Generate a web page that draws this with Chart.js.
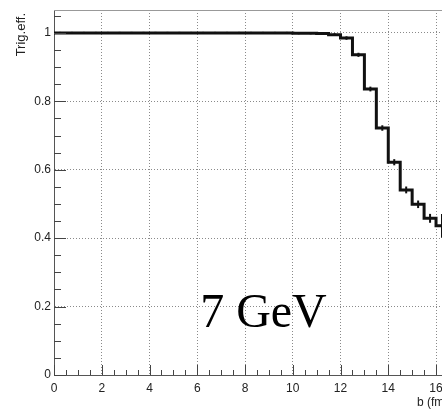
<!DOCTYPE html>
<html>
<head>
<meta charset="utf-8">
<script src="https://cdn.jsdelivr.net/npm/chart.js@4"></script>
<style>
  html, body { margin: 0; padding: 0; background: #fff; }
  canvas { display: block; }
</style>
</head>
<body>
<canvas id="effChart" width="442" height="411"></canvas>
<script>
// lower edge of each 0.5 fm bin
const binLow = [0, 0.5, 1, 1.5, 2, 2.5, 3, 3.5, 4, 4.5, 5, 5.5, 6, 6.5, 7, 7.5,
  8, 8.5, 9, 9.5, 10, 10.5, 11, 11.5, 12, 12.5, 13, 13.5, 14, 14.5, 15, 15.5, 16];
const binWidth = 0.5;
const trigEff = [1, 1, 1, 1, 1, 1, 1, 1, 1, 1, 1, 1, 1, 1, 1, 1,
  1, 1, 1, 1, 0.999, 0.999, 0.998, 0.995, 0.985, 0.936, 0.836, 0.722, 0.622, 0.541, 0.499, 0.458, 0.436];
const trigErr = [0.003, 0.003, 0.003, 0.003, 0.003, 0.003, 0.003, 0.003, 0.003, 0.003, 0.003, 0.003, 0.003, 0.003, 0.003, 0.003,
  0.003, 0.003, 0.003, 0.003, 0.003, 0.003, 0.003, 0.004, 0.005, 0.006, 0.007, 0.008, 0.009, 0.01, 0.011, 0.013, 0.035];
const xTicks = [0, 2, 4, 6, 8, 10, 12, 14, 16];
const yTicks = [0, 0.2, 0.4, 0.6, 0.8, 1];
const xMinorStep = 0.5;
const yMinorStep = 0.05;
const label = '7 GeV';

// step points: bin edges, last edge repeats last value
const stepData = binLow.map((x, i) => ({ x: x, y: trigEff[i] }));
stepData.push({ x: binLow[binLow.length - 1] + binWidth, y: trigEff[trigEff.length - 1] });

const rootAxes = {
  id: 'rootAxes',
  afterDatasetsDraw(chart) {
    const ctx = chart.ctx;
    const xs = chart.scales.x, ys = chart.scales.y;
    ctx.save();
    // error bars at bin centres
    ctx.strokeStyle = '#111';
    ctx.lineWidth = 2;
    binLow.forEach((lo, i) => {
      const px = xs.getPixelForValue(lo + binWidth / 2);
      const top = ys.getPixelForValue(trigEff[i] + trigErr[i]);
      const bot = ys.getPixelForValue(trigEff[i] - trigErr[i]);
      ctx.beginPath();
      ctx.moveTo(px, top);
      ctx.lineTo(px, bot);
      ctx.stroke();
    });
    ctx.restore();
  },
  afterDraw(chart) {
    const ctx = chart.ctx;
    const xs = chart.scales.x, ys = chart.scales.y;
    const area = chart.chartArea;
    ctx.save();
    // top frame line
    ctx.strokeStyle = '#999';
    ctx.lineWidth = 1;
    ctx.beginPath();
    ctx.moveTo(area.left, area.top + 0.5);
    ctx.lineTo(area.right, area.top + 0.5);
    ctx.stroke();
    // inward ticks
    ctx.strokeStyle = '#444';
    for (let v = 0; v <= xs.max + 1e-9; v += xMinorStep) {
      const major = xTicks.some(t => Math.abs(t - v) < 1e-6);
      const px = Math.round(xs.getPixelForValue(v)) + 0.5;
      ctx.beginPath();
      ctx.moveTo(px, area.bottom);
      ctx.lineTo(px, area.bottom - (major ? 10 : 5));
      ctx.stroke();
    }
    for (let v = 0; v <= ys.max + 1e-9; v += yMinorStep) {
      const major = yTicks.some(t => Math.abs(t - v) < 1e-6);
      const py = Math.round(ys.getPixelForValue(v)) + 0.5;
      ctx.beginPath();
      ctx.moveTo(area.left, py);
      ctx.lineTo(area.left + (major ? 12 : 7), py);
      ctx.stroke();
    }
    // axis titles
    ctx.fillStyle = '#222';
    ctx.font = '12px "Liberation Sans", Arial, sans-serif';
    ctx.textAlign = 'left';
    ctx.textBaseline = 'alphabetic';
    ctx.fillText('b (fm)', 417, 406);
    ctx.font = '13px "Liberation Sans", Arial, sans-serif';
    ctx.translate(25, 13);
    ctx.rotate(-Math.PI / 2);
    ctx.textAlign = 'right';
    ctx.fillText('Trig.eff.', 0, 0);
    ctx.restore();
    // big label
    ctx.save();
    ctx.fillStyle = '#000';
    ctx.font = '48px "Liberation Serif", "Times New Roman", serif';
    ctx.textAlign = 'left';
    ctx.textBaseline = 'alphabetic';
    ctx.fillText(label, xs.getPixelForValue(6.12), ys.getPixelForValue(0.141));
    ctx.restore();
  }
};

const gridStyle = {
  color: '#8a8a8a',
  lineWidth: 1,
  drawTicks: false
};

new Chart(document.getElementById('effChart').getContext('2d'), {
  type: 'line',
  data: {
    datasets: [{
      label: 'Trig.eff.',
      data: stepData,
      stepped: 'before',
      borderColor: '#111',
      borderWidth: 3,
      pointRadius: 0,
      fill: false
    }]
  },
  options: {
    responsive: false,
    animation: false,
    layout: { padding: { top: 10, right: 0, left: 0, bottom: 0 } },
    plugins: { legend: { display: false }, tooltip: { enabled: false } },
    scales: {
      x: {
        type: 'linear',
        min: 0,
        max: 16.25,
        afterBuildTicks: s => { s.ticks = xTicks.map(v => ({ value: v })); },
        afterFit: s => { s.height = 36; s.paddingLeft = 0; s.paddingRight = 0; },
        grid: gridStyle,
        border: { display: true, color: '#555', width: 1, dash: [1, 2] },
        ticks: {
          padding: 6,
          color: '#222',
          maxRotation: 0,
          autoSkip: false,
          font: { family: '"Liberation Sans", Arial, sans-serif', size: 12 }
        }
      },
      y: {
        type: 'linear',
        min: 0,
        max: 1.067,
        afterBuildTicks: s => { s.ticks = yTicks.map(v => ({ value: v })); },
        afterFit: s => { s.width = 54; s.paddingTop = 0; s.paddingBottom = 0; },
        grid: gridStyle,
        border: { display: true, color: '#555', width: 1, dash: [1, 2] },
        ticks: {
          padding: 3,
          color: '#222',
          autoSkip: false,
          callback: v => String(Math.round(v * 10) / 10),
          font: { family: '"Liberation Sans", Arial, sans-serif', size: 12 }
        }
      }
    }
  },
  plugins: [rootAxes]
});
</script>
</body>
</html>
